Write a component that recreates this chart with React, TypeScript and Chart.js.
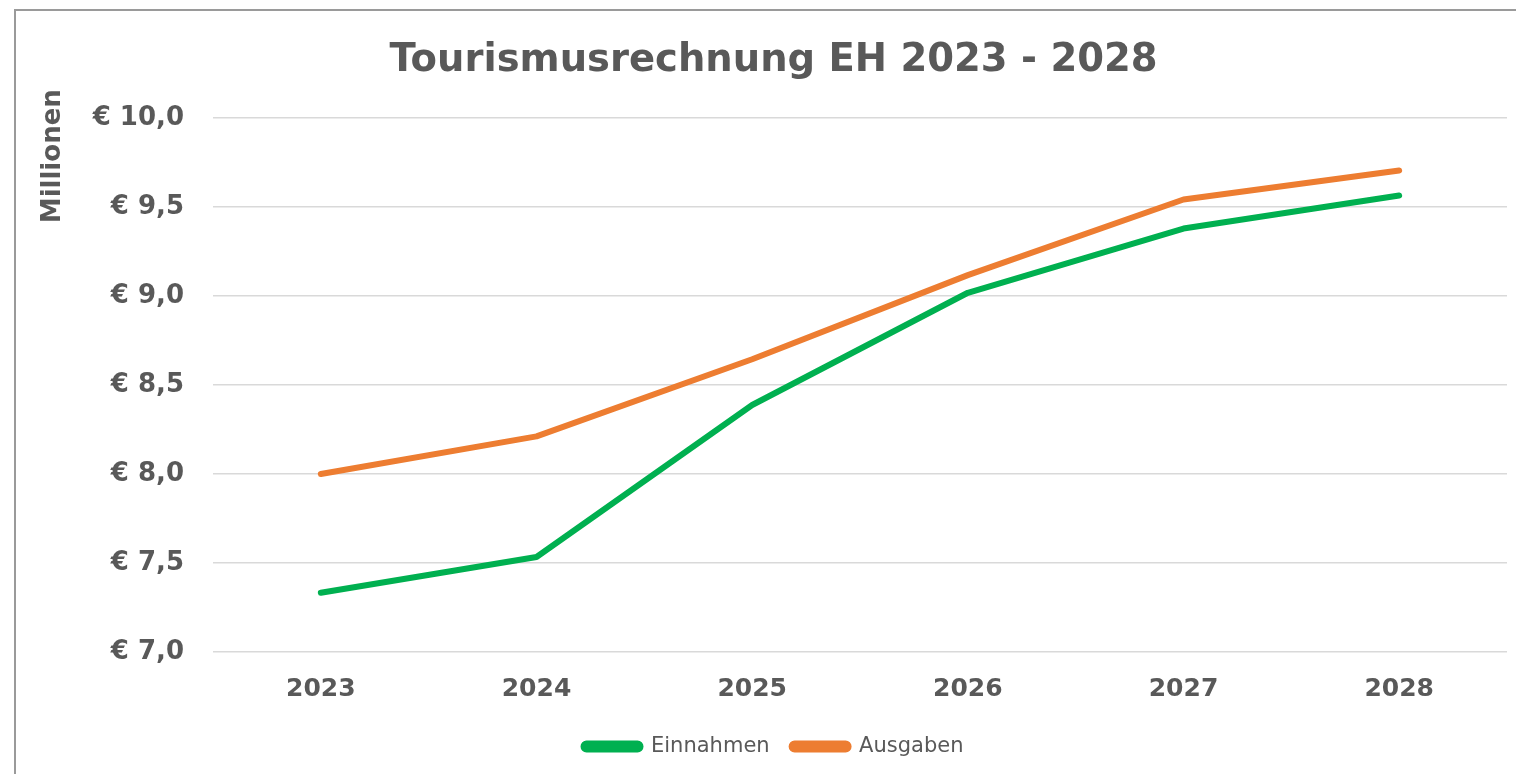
import React, { useEffect, useRef } from "react";
import { Chart, registerables } from "chart.js";

Chart.register(...registerables);

const years = ["2023", "2024", "2025", "2026", "2027", "2028"];
const einnahmen = [7.333, 7.534, 8.388, 9.019, 9.38, 9.566];
const ausgaben = [8.0, 8.212, 8.645, 9.118, 9.543, 9.706];
const yMin = 7;
const yMax = 10;
const yStep = 0.5;
const chartTitle = "Tourismusrechnung EH 2023 - 2028";
const yAxisTitle = "Millionen";

const TEXT = "#595959";
const FONT = "'DejaVu Sans', Verdana, sans-serif";

const yTitlePlugin = {
  id: "yTitleMillionen",
  afterDraw(chart: any) {
    const { ctx, chartArea } = chart;
    ctx.save();
    ctx.font = `bold 26px ${FONT}`;
    ctx.fillStyle = TEXT;
    ctx.textAlign = "right";
    ctx.textBaseline = "middle";
    ctx.translate(53, chartArea.top - 29);
    ctx.rotate(-Math.PI / 2);
    ctx.fillText(yAxisTitle, 0, 0);
    ctx.restore();
  },
};

export default function App() {
  const ref = useRef<HTMLCanvasElement | null>(null);

  useEffect(() => {
    if (!ref.current) return;
    const chart = new Chart(ref.current, {
      type: "line",
      data: {
        labels: years,
        datasets: [
          {
            label: "Einnahmen",
            data: einnahmen,
            borderColor: "#00B050",
            backgroundColor: "#00B050",
            borderWidth: 6,
            borderCapStyle: "round",
            borderJoinStyle: "round",
            pointRadius: 0,
            tension: 0,
          },
          {
            label: "Ausgaben",
            data: ausgaben,
            borderColor: "#ED7D31",
            backgroundColor: "#ED7D31",
            borderWidth: 6,
            borderCapStyle: "round",
            borderJoinStyle: "round",
            pointRadius: 0,
            tension: 0,
          },
        ],
      },
      options: {
        animation: false,
        responsive: false,
        maintainAspectRatio: false,
        layout: { padding: { left: 40, right: 9, top: 0, bottom: 7 } },
        plugins: {
          title: {
            display: true,
            text: chartTitle,
            color: TEXT,
            font: { family: FONT, size: 38.5, weight: "bold" },
            padding: { top: 38, bottom: 34 },
          },
          legend: {
            position: "bottom",
            labels: {
              color: TEXT,
              font: { family: FONT, size: 21 },
              boxWidth: 57,
              boxHeight: 6,
              useBorderRadius: true,
              borderRadius: 3,
              padding: 22,
            },
          },
          tooltip: { enabled: false },
        },
        scales: {
          x: {
            offset: true,
            grid: { display: false, drawTicks: false },
            border: { display: false },
            ticks: {
              color: TEXT,
              font: { family: FONT, size: 25, weight: "bold" },
              padding: 22,
              maxRotation: 0,
            },
            afterFit(scale: any) {
              scale.height = 62;
            },
          },
          y: {
            min: yMin,
            max: yMax,
            grid: { color: "#D9D9D9", lineWidth: 1.5, drawTicks: false },
            border: { display: false },
            ticks: {
              stepSize: yStep,
              color: TEXT,
              font: { family: FONT, size: 26, weight: "bold" },
              padding: 29,
              callback: (v: any) => "€ " + Number(v).toFixed(1).replace(".", ","),
            },
            afterFit(scale: any) {
              scale.width = 213 - 40;
            },
          },
        },
      },
      plugins: [yTitlePlugin],
    });
    return () => chart.destroy();
  }, []);

  return (
    <div
      style={{
        position: "absolute",
        left: 0,
        top: 0,
        width: 1516,
        height: 774,
        overflow: "hidden",
        background: "#fff",
      }}
    >
      <div
        style={{
          position: "absolute",
          left: 14,
          top: 9,
          width: 1700,
          height: 900,
          borderLeft: "2px solid #9a9a9a",
          borderTop: "2px solid #9a9a9a",
        }}
      />
      <canvas
        ref={ref}
        width={1516}
        height={774}
        style={{ position: "absolute", left: 0, top: 0, width: 1516, height: 774 }}
      />
    </div>
  );
}
